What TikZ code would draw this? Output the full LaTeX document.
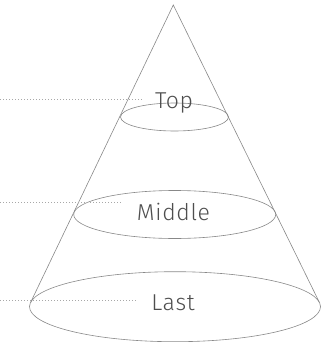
\documentclass[tikz,border=0pt]{standalone}
\usepackage{fontspec}
\setmainfont{Fira Sans}[UprightFont=* Light, LetterSpace=3]
\usetikzlibrary{shapes.geometric}
\definecolor{conegray}{HTML}{888888}
\definecolor{guidegray}{HTML}{A8A8A8}
\definecolor{labelgray}{HTML}{4E4E4E}
\begin{document}
\begin{tikzpicture}[x=1pt,y=-1pt,
  rim/.style={draw=conegray, ellipse, inner sep=0pt, line width=0.6pt},
  side/.style={draw=conegray, line width=0.6pt},
  lbl/.style={text=labelgray, font=\fontsize{23}{27}\selectfont, inner sep=0pt},
  guide/.style={draw=guidegray, line width=0.6pt, dash pattern=on 0.7pt off 2.3pt}]
\useasboundingbox (0,0) rectangle (322,342);
% cone
\coordinate (apex) at (173.3,5);
\coordinate (base l) at (30.6,302.4);
\coordinate (base r) at (319.4,302.4);
\draw [side] (base l) -- (apex) -- (base r);
% rims
\node [rim, minimum width=108, minimum height=28] (rtop) at (174.5,117) {};
\node [rim, minimum width=202, minimum height=48] (rmid) at (174.7,214.5) {};
\node [rim, minimum width=291, minimum height=70] (rlast) at (175,306.7) {};
% labels
\node [lbl] (top) at (174,103) {Top};
\node [lbl] (middle) at (173.5,211.5) {Middle};
\node [lbl] (last) at (173,303) {Last};
% guides
\coordinate (gtop) at (0,99.3);
\coordinate (gmid) at (0,202.7);
\coordinate (glast) at (0,300);
\draw [guide] (gtop) -- (141.7,99.3);
\draw [guide] (gmid) -- (121.7,202.7);
\draw [guide] (glast) -- (137.3,300);
\end{tikzpicture}
\end{document}
